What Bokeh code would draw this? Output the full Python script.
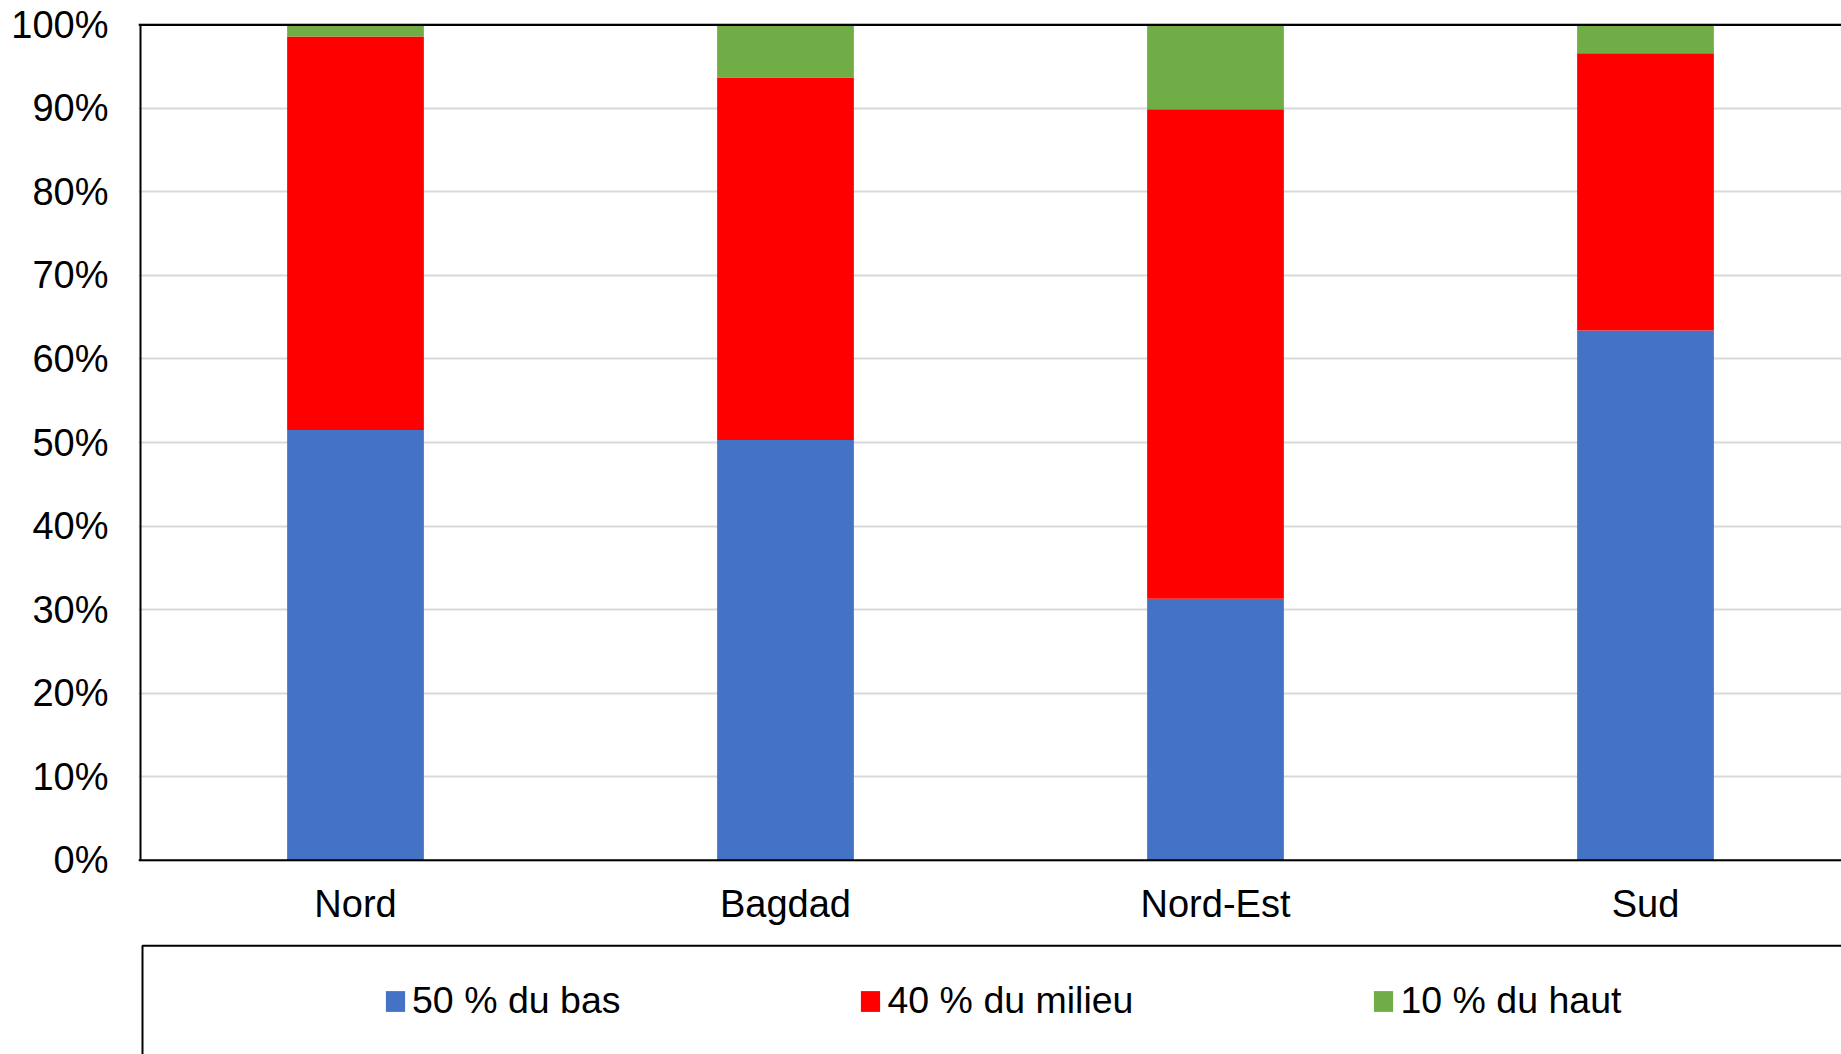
from bokeh.plotting import figure
from bokeh.models import (ColumnDataSource, Range1d, FixedTicker, PrintfTickFormatter,
                          Legend, LegendItem, Span, BoxAnnotation)
from bokeh.core.properties import value
from bokeh.embed import file_html
from bokeh.resources import INLINE

categories = ["Nord", "Bagdad", "Nord-Est", "Sud"]
bas_50 = [51.5, 50.3, 31.3, 63.4]
milieu_40 = [47.1, 43.4, 58.6, 33.2]
haut_10 = [1.4, 6.3, 10.1, 3.4]
series_names = ["50 % du bas", "40 % du milieu", "10 % du haut"]
y_ticks = [0, 10, 20, 30, 40, 50, 60, 70, 80, 90, 100]

colors = ["#4472C4", "#FF0000", "#70AD47"]
FONT = "Liberation Sans"
FS = "38px"

# layout constants (pixels)
W, H = 1841, 1054
BORDER_LEFT, BORDER_TOP = 138, 23
CAT_PX = 430.0          # width of one category slot
PX_PER_PCT = 8.355      # vertical pixels per percent
frame_w = W - BORDER_LEFT
frame_h = H - BORDER_TOP
x0 = -2.0 / CAT_PX
y1 = 100 + 1.25 / PX_PER_PCT
y0 = y1 - frame_h / PX_PER_PCT

xpos = [i + 0.5 for i in range(len(categories))]
source = ColumnDataSource(dict(x=xpos, bas=bas_50, milieu=milieu_40, haut=haut_10))
lab_src = ColumnDataSource(dict(x=xpos, y=[-43.5 / PX_PER_PCT] * len(xpos), t=categories))

p = figure(width=W, height=H, output_backend="svg", toolbar_location=None,
           x_range=Range1d(x0, x0 + frame_w / CAT_PX), y_range=Range1d(y0, y1),
           min_border_left=BORDER_LEFT, min_border_right=0, min_border_top=BORDER_TOP,
           min_border_bottom=0)
p.outline_line_color = None
p.background_fill_color = "white"
p.border_fill_color = "white"
p.xaxis.visible = False

renderers = p.vbar_stack(["bas", "milieu", "haut"], x="x", width=0.318, source=source,
                         color=colors, line_color=None)

# category labels
p.text(x="x", y="y", text="t", source=lab_src, text_font=value(FONT),
       text_font_size=value(FS), text_color="black", text_align="center",
       text_baseline="middle")

# y axis
p.yaxis.ticker = FixedTicker(ticks=y_ticks)
p.yaxis.formatter = PrintfTickFormatter(format="%d%%")
p.yaxis.major_tick_line_color = None
p.yaxis.minor_tick_line_color = None
p.yaxis.axis_line_color = None
p.yaxis.major_label_text_font = FONT
p.yaxis.major_label_text_font_size = FS
p.yaxis.major_label_text_color = "black"
p.yaxis.major_label_standoff = 24

p.xgrid.grid_line_color = None
p.ygrid.ticker = FixedTicker(ticks=y_ticks)
p.ygrid.grid_line_color = "#D9D9D9"
p.ygrid.grid_line_width = 2

# plot-area frame lines
p.segment(x0=[0], y0=[0], x1=[0], y1=[100], line_color="black", line_width=2)
p.add_layout(Span(location=0, dimension="width", line_color="black", line_width=2))
p.add_layout(Span(location=100, dimension="width", line_color="black", line_width=2.5))

# legend box border (left & top visible, rest runs off the page)
p.add_layout(BoxAnnotation(left=2 / CAT_PX, right=50, top=-85.5 / PX_PER_PCT, bottom=-1000,
                           fill_color=None, fill_alpha=0, line_color="black",
                           line_alpha=1.0, line_width=2))

legend = Legend(items=[LegendItem(label=n, renderers=[r]) for n, r in zip(series_names, renderers)],
                orientation="horizontal", location=(245, 32), padding=0, spacing=238,
                glyph_width=24, glyph_height=26, label_standoff=5,
                label_text_font=FONT, label_text_font_size="37.5px", label_text_color="black",
                border_line_color=None, background_fill_alpha=0)
p.add_layout(legend)

open("out.html", "w").write(file_html(p, INLINE))
